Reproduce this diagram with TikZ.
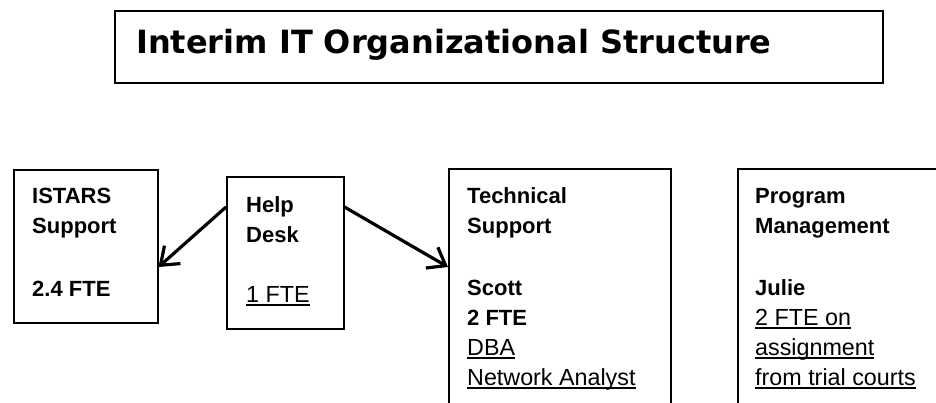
\documentclass[tikz,border=0pt]{standalone}
\usepackage{fontspec}
\setmainfont{Liberation Sans}
\newfontfamily\titlefont{DejaVu Sans}
\usetikzlibrary{arrows.meta}
\tikzset{
box/.style={draw, line width=1.5pt, anchor=north west, inner sep=0pt},
%anchored at the baseline of the last line
boxtext/.style={anchor=base west, align=left, inner sep=0pt,
	font=\fontsize{22}{30}\selectfont\bfseries},
link/.style={line width=3.2pt, -{Straight Barb[length=16pt,width=24pt]}}
}
%underlined, not bold
\newcommand{\ul}[1]{{\mdseries\fontsize{23.3}{30}\selectfont\setbox0=\hbox{#1}\rlap{\rule[-3.5pt]{\wd0}{1.2pt}}\box0}}

\begin{document}
\begin{tikzpicture}[x=1pt, y=-1pt]
\useasboundingbox (0,0) rectangle (936,402);

%title
\node[box, line width=1.8pt, minimum width=768pt, minimum height=72pt] (head) at (114,10) {};
\node[anchor=base west, inner sep=0pt, font=\titlefont\bfseries\fontsize{32}{36}\selectfont] (title) at (136,53) {Interim IT Organizational Structure};

%the four boxes, the last two run off the page
\node[box, minimum width=144pt, minimum height=153pt] (istars) at (13,169) {};
\node[box, minimum width=117pt, minimum height=152pt] (help) at (226,176) {};
\node[box, minimum width=222pt, minimum height=252pt] (tech) at (448,168) {};
\node[box, minimum width=222pt, minimum height=252pt] (prog) at (737,168) {};

%texts
\node[boxtext] (istarst) at (32,296) {ISTARS\\Support\\[33pt]2.4 FTE};
\node[boxtext] (helpt) at (246,302) {Help\\Desk\\[30pt]\ul{1 FTE}};
\node[boxtext] (techt) at (467,385) {Technical\\Support\\[32pt]Scott\\2 FTE\\\ul{DBA}\\\ul{Network Analyst}};
\node[boxtext] (progt) at (755,385) {Program\\Management\\[32pt]Julie\\\ul{2 FTE on}\\\ul{assignment}\\\ul{from trial courts}};

%arrows out of the help desk
\draw[link] ([yshift=-31pt]help.north west) -- ([yshift=-98pt]istars.north east);
\draw[link] ([yshift=-31pt]help.north east) -- ([yshift=-99pt]tech.north west);
\end{tikzpicture}
\end{document}
